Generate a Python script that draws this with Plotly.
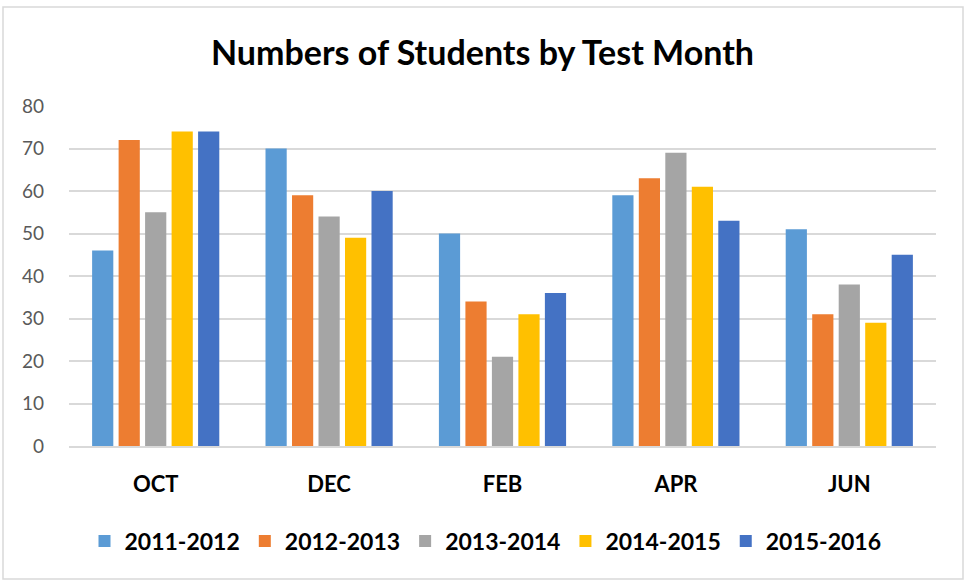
import plotly.graph_objects as go

months = ["OCT", "DEC", "FEB", "APR", "JUN"]
series_names = ["2011-2012", "2012-2013", "2013-2014", "2014-2015", "2015-2016"]
s2011 = [46, 70, 50, 59, 51]
s2012 = [72, 59, 34, 63, 31]
s2013 = [55, 54, 21, 69, 38]
s2014 = [74, 49, 31, 61, 29]
s2015 = [74, 60, 36, 53, 45]
series_values = [s2011, s2012, s2013, s2014, s2015]
colors = ["#5B9BD5", "#ED7D31", "#A5A5A5", "#FFC000", "#4472C4"]
y_ticks = [0, 10, 20, 30, 40, 50, 60, 70, 80]

FONT = "Lato"

fig = go.Figure()
for name, vals, c in zip(series_names, series_values, colors):
    fig.add_trace(go.Bar(x=months, y=vals, name="<b>" + name + "</b>",
                         marker=dict(color=c, line=dict(width=0))))

W, H = 965, 581
L, R, T, B = 69, 29, 106, 135
pw, ph = W - L - R, H - T - B

def px_to_paper_x(px):
    return (px - L) / pw

def px_to_paper_y(py):
    return (H - B - py) / ph

fig.add_shape(type="rect", xref="paper", yref="paper",
              x0=px_to_paper_x(3), x1=px_to_paper_x(963),
              y0=px_to_paper_y(579), y1=px_to_paper_y(7),
              line=dict(color="#D9D9D9", width=1.5), fillcolor="rgba(0,0,0,0)", layer="below")

fig.update_layout(
    width=W, height=H,
    margin=dict(l=L, r=R, t=T, b=B),
    paper_bgcolor="white", plot_bgcolor="white",
    title=dict(text="<b>Numbers of Students by Test Month</b>", x=0.5, xanchor="center",
               xref="container",
               y=1 - 53 / H, yanchor="middle",
               font=dict(family=FONT, size=34, color="black")),
    barmode="group", bargap=0.236, bargroupgap=0.2,
    font=dict(family=FONT),
    xaxis=dict(showgrid=False, showline=True, linecolor="#D9D9D9", linewidth=2,
               tickfont=dict(family=FONT, size=22, color="black"), ticks="",
               tickprefix="<b>", ticksuffix="</b>", ticklabelstandoff=18),
    yaxis=dict(range=[0, 80], tickvals=y_ticks, showgrid=True, gridcolor="#D9D9D9", gridwidth=2,
               zeroline=False, showline=False,
               tickfont=dict(family=FONT, size=19, color="#595959"), ticks="", ticklabelstandoff=24),
    legend=dict(orientation="h", x=0.5 - 17 / pw, xanchor="center", y=px_to_paper_y(541), yanchor="middle",
                font=dict(family=FONT, size=23, color="black"), itemwidth=30,
                traceorder="normal"),
)

fig.write_html("out.html", config={"displayModeBar": False},
               post_script="document.body.style.margin='0';")
